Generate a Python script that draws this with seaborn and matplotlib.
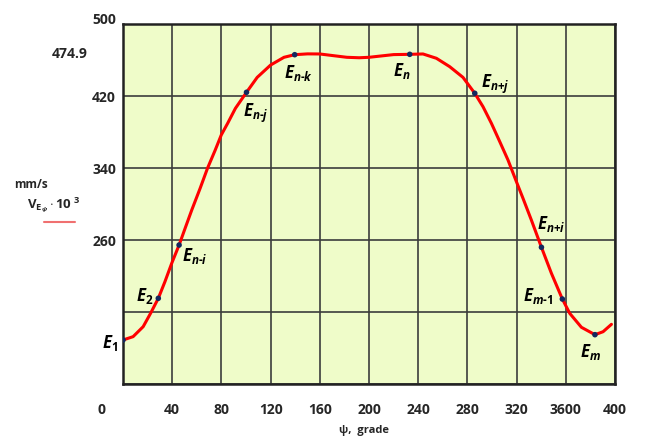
import numpy as np
import pandas as pd
import matplotlib
matplotlib.use("Agg")
import matplotlib.pyplot as plt
import matplotlib.transforms as mtransforms
import seaborn as sns

# ---------------------------------- DATA ----------------------------------
# curve (psi in grade, V in mm/s * 10^3)
psi_curve = [0, 8.2, 16.4, 22.4, 28.7, 34.1, 39.6, 45.6, 50.5, 55.9, 62.7,
             68.7, 75, 79.9, 85.1, 91.4, 100.4, 109.1, 120, 130.9, 139.6,
             150, 160, 170, 182, 192, 200, 210, 220, 233.1, 243.9, 254.8,
             265.6, 276.4, 286, 292.7, 299.5, 306.3, 313, 319.3, 325.2, 332,
             340.2, 348.3, 357.2, 363.2, 372.7, 383.7, 390.3, 397.1]
v_curve = [148.9, 152.6, 163.7, 178.5, 195.2, 213.7, 234.1, 254.4, 273, 293.3,
           317.4, 339.7, 360, 376.7, 389.7, 406.3, 424.1, 440.7, 454.4, 463,
           465.9, 466.8, 466.7, 465, 463, 462.5, 463, 464.5, 466, 466.3,
           466.7, 461.9, 452.6, 440.7, 423, 408.1, 389.7, 369.3, 348.9, 326.7,
           306.3, 282.2, 251.9, 223, 194.4, 178.5, 163, 154.8, 158.1, 166.3]

# marked points
psi_pts = [0, 28.7, 45.6, 100.4, 139.6, 233.1, 286, 340.2, 357.2, 383.7]
v_pts = [148.9, 195.2, 254.4, 424.1, 465.9, 466.3, 423, 251.9, 194.4, 154.8]
pt_labels = [r"$E_1$", r"$E_2$", r"$E_{n\text{-}i}$", r"$E_{n\text{-}j}$",
             r"$E_{n\text{-}k}$", r"$E_n$", r"$E_{n{+}j}$", r"$E_{n{+}i}$",
             r"$E_{m\text{-}1}$", r"$E_m$"]
# label offsets in pixels and alignment
pt_offsets = [(-5, -3), (-5, 2), (3, -11), (-3, -21), (-11, -18), (-17, -17),
              (6, 9), (-4, 23), (-9, 3), (-15, -17)]
pt_ha = ["right", "right", "left", "left", "left", "left", "left", "left",
         "right", "left"]

x_ticks = [0, 40, 80, 120, 160, 200, 240, 280, 320, 360, 400]
x_ticklabels = ["0", "40", "80", "120", "160", "200", "240", "280", "320",
                "3600", "400"]
y_ticks = [100, 180, 260, 340, 420, 500]
y_ticklabels = ["", "", "260", "340", "420", "500"]

# ---------------------------------- PLOT ----------------------------------
sns.set_style("white")
plt.rcParams["font.family"] = ["Open Sans", "DejaVu Sans"]
plt.rcParams["mathtext.fontset"] = "custom"
plt.rcParams["mathtext.rm"] = "Open Sans:bold"
plt.rcParams["mathtext.it"] = "Open Sans:italic:bold"
plt.rcParams["mathtext.bf"] = "Open Sans:bold"

fig = plt.figure(figsize=(6.46, 4.36), dpi=100)
ax = fig.add_axes([123 / 646, 1 - 384 / 436, (615 - 123) / 646, (384 - 24) / 436])
ax.set_facecolor("#effcc9")

curve_df = pd.DataFrame({"psi": psi_curve, "v": v_curve})
pts_df = pd.DataFrame({"psi": psi_pts, "v": v_pts})

sns.lineplot(data=curve_df, x="psi", y="v", ax=ax, color="#ff0000",
             linewidth=2.2, sort=False, zorder=3,
             solid_joinstyle="round", solid_capstyle="round")
sns.scatterplot(data=pts_df, x="psi", y="v", ax=ax, color="#14285e",
                s=16, edgecolor="none", zorder=4)

for x, y, lab, off, ha in zip(psi_pts, v_pts, pt_labels, pt_offsets, pt_ha):
    ax.annotate(lab, (x, y), xytext=off, textcoords="offset pixels",
                ha=ha, va="center", fontsize=12, color="black", zorder=5)

ax.set_xlim(0, 400)
ax.set_ylim(100, 500)
ax.set_xticks(x_ticks)
ax.set_xticklabels(x_ticklabels, fontsize=10, fontweight="bold")
ax.set_yticks(y_ticks)
ax.set_yticklabels(y_ticklabels, fontsize=10, fontweight="bold")
ax.tick_params(axis="x", length=0, pad=14)
ax.tick_params(axis="y", length=0, pad=5)
ax.grid(True, color="#3c3c3c", linewidth=1.2)
ax.set_axisbelow(True)
for sp in ax.spines.values():
    sp.set_color("#222222")
    sp.set_linewidth(1.8)
ax.set_xlabel("")
ax.set_ylabel("")

# shift a couple of tick labels like in the original
lab0 = ax.get_xticklabels()[0]
lab0.set_transform(lab0.get_transform() +
                   mtransforms.ScaledTranslation(-0.21, 0, fig.dpi_scale_trans))
lab500 = ax.get_yticklabels()[-1]
lab500.set_transform(lab500.get_transform() +
                     mtransforms.ScaledTranslation(0, 0.06, fig.dpi_scale_trans))

# extra texts
fig.text(88 / 646, 1 - 54 / 436, "474.9", ha="right", va="center",
         fontsize=10, fontweight="bold")
fig.text(14 / 646, 1 - 184 / 436, "mm/s", ha="left", va="center",
         fontsize=8.5, fontweight="bold")
fig.text(27 / 646, 1 - 205 / 436,
         r"$\mathrm{V}_{\mathrm{E}_{\psi}}\cdot\mathrm{10}^{\ \mathrm{3}}$",
         ha="left", va="center", fontsize=9.5)
fig.add_artist(plt.Line2D([44 / 646, 75 / 646], [1 - 222 / 436, 1 - 222 / 436],
                          color="#f07070", linewidth=1.5))
fig.text(364 / 646, 1 - 430 / 436, r"ψ,  grade", ha="center", va="center",
         fontsize=8, fontweight="bold")

fig.savefig("out.png", dpi=100)
